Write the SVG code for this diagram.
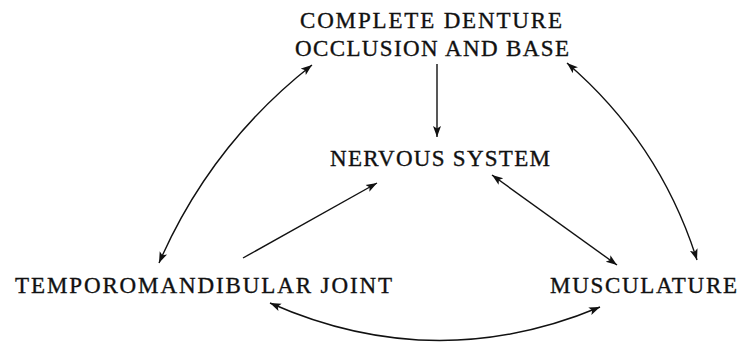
<svg xmlns="http://www.w3.org/2000/svg" width="744" height="343" viewBox="0 0 744 343">
<style>
.lbl{font-family:"Liberation Serif","Times New Roman",serif;font-size:23px;fill:#111;stroke:#111;stroke-width:0.35;}
.c{fill:none;stroke:#111;stroke-width:1.4;}
</style>
<defs>
<marker id="ah" markerUnits="userSpaceOnUse" markerWidth="12" markerHeight="10" refX="11" refY="4" orient="auto-start-reverse" viewBox="0 0 12 8">
<path d="M0,0 L11,4 L0,8 L2.5,4 z" fill="#111"/>
</marker>
</defs>
<rect width="744" height="343" fill="#fff"/>
<g id="n-denture">
<text class="lbl" x="300" y="27.5" textLength="262" lengthAdjust="spacing">COMPLETE DENTURE</text>
<text class="lbl" x="295" y="55.5" textLength="274" lengthAdjust="spacing">OCCLUSION AND BASE</text>
</g>
<g id="n-nervous">
<text class="lbl" x="330" y="166" textLength="220" lengthAdjust="spacing">NERVOUS SYSTEM</text>
</g>
<g id="n-tmj">
<text class="lbl" x="15" y="293" textLength="377" lengthAdjust="spacing">TEMPOROMANDIBULAR JOINT</text>
</g>
<g id="n-muscle">
<text class="lbl" x="550" y="293" textLength="187" lengthAdjust="spacing">MUSCULATURE</text>
</g>
<g id="connectors">
<path class="c" d="M437,64 L437,137" marker-end="url(#ah)"/>
<path class="c" d="M312,65 Q210.5,144.7 159,263" marker-start="url(#ah)" marker-end="url(#ah)"/>
<path class="c" d="M243,258 L377,183" marker-end="url(#ah)"/>
<path class="c" d="M492,175 L617,265" marker-start="url(#ah)" marker-end="url(#ah)"/>
<path class="c" d="M567,63 Q660,143 697,260" marker-start="url(#ah)" marker-end="url(#ah)"/>
<path class="c" d="M270,303 Q435,376 600,307" marker-start="url(#ah)" marker-end="url(#ah)"/>
</g>
</svg>
